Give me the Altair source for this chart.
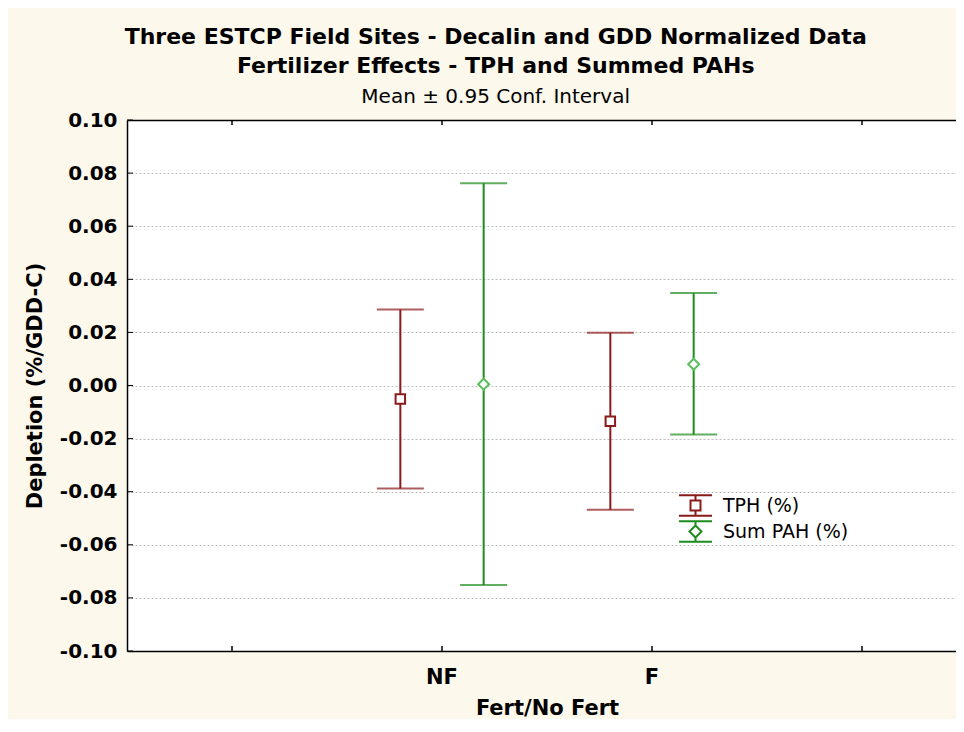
import altair as alt
import pandas as pd

# ---- data ----
categories = ["NF", "NF", "F", "F"]
series = ["TPH (%)", "Sum PAH (%)", "TPH (%)", "Sum PAH (%)"]
means = [-0.0051, 0.0005, -0.0135, 0.0080]
lows = [-0.0388, -0.0751, -0.0468, -0.0185]
highs = [0.0286, 0.0762, 0.0199, 0.0348]

series_order = ["TPH (%)", "Sum PAH (%)"]
x_slots = ["L", "NF", "F", "R"]
y_ticks = [-0.10, -0.08, -0.06, -0.04, -0.02, 0.00, 0.02, 0.04, 0.06, 0.08, 0.10]

df = pd.DataFrame({"cat": categories, "series": series, "mean": means, "lo": lows, "hi": highs})
yt_df = pd.DataFrame({"t": y_ticks})
xt_df = pd.DataFrame({"cat": x_slots})

# ---- styling ----
FONT = "DejaVu Sans"
LINE_COLORS = {"TPH (%)": "#8B1A1A", "Sum PAH (%)": "#1E8C1E"}
MARK_COLORS = {"TPH (%)": "#8B1A1A", "Sum PAH (%)": "#5CBF5C"}
MARK_SHAPES = {"TPH (%)": ("square", 90), "Sum PAH (%)": ("diamond", 120)}
W, H = 829, 531
BAND_RANGE = 840  # bands continue past the right edge, as in the reference

xscale = alt.Scale(domain=x_slots, range=[0, BAND_RANGE], paddingInner=0, paddingOuter=0)
yscale = alt.Scale(domain=[-0.1, 0.1], nice=False, zero=False)
xoff = alt.XOffset("series:N", scale=alt.Scale(domain=series_order, paddingOuter=0.26, paddingInner=0))

bottom_axis = alt.Axis(
    orient="bottom", title="Fert/No Fert", ticks=False, grid=False, labelAngle=0,
    labelExpr="datum.value == 'NF' || datum.value == 'F' ? datum.value : ''",
    labelFont=FONT, labelFontSize=21, labelFontWeight="bold", labelColor="black",
    labelPadding=15, titleFont=FONT, titleFontSize=21, titleFontWeight="bold",
    titleColor="black", titlePadding=10, domainColor="black", domainWidth=1.5,
)
top_axis = alt.Axis(orient="top", title=None, labels=False, ticks=False, grid=False,
                    domainColor="black", domainWidth=1.5)
y_axis = alt.Axis(
    orient="left", values=y_ticks, title="Depletion (%/GDD-C)", ticks=False, grid=True,
    gridColor="#BDBDBD", gridDash=[2, 2], gridWidth=1,
    labelExpr="(datum.value < -0.000001 ? '-' : '') + format(abs(datum.value), '.2f')",
    labelFont=FONT, labelFontSize=20, labelFontWeight="bold", labelColor="black",
    labelPadding=10, titleFont=FONT, titleFontSize=21, titleFontWeight="bold",
    titleColor="black", titlePadding=14, domainColor="black", domainWidth=1.5,
)

# legend glyphs: error bar with its marker (unit = symbol radius 10.5 px)
tph_path = ("M-1.57,-0.976H1.57M-1.57,0.976H1.57M0,-0.976V-0.476M0,0.476V0.976"
            "M-0.476,-0.476H0.476V0.476H-0.476Z")
pah_path = ("M-1.57,-0.976H1.57M-1.57,0.976H1.57M0,-0.976V-0.571M0,0.571V0.976"
            "M0,-0.571L0.571,0L0,0.571L-0.571,0Z")

leg = alt.Legend(
    title=None, orient="none", legendX=557, legendY=374, padding=0,
    symbolSize=441, symbolStrokeWidth=2, symbolOpacity=1, symbolFillColor="white",
    labelFont=FONT, labelFontSize=19, labelColor="black", labelOffset=16, rowPadding=-4,
)

base = alt.Chart(df)


def X():
    return alt.X("cat:N", scale=xscale, axis=None)


# invisible layer that only carries the legend (color + shape of the series)
legend_layer = base.mark_point(size=0, filled=False, fill="white").encode(
    x=X(), xOffset=xoff,
    y=alt.Y("mean:Q", scale=yscale),
    color=alt.Color("series:N", scale=alt.Scale(domain=series_order,
                                                 range=[LINE_COLORS[s] for s in series_order]),
                    legend=leg),
    shape=alt.Shape("series:N", scale=alt.Scale(domain=series_order, range=[tph_path, pah_path]),
                    legend=leg),
)

layers = [legend_layer]
for i, s in enumerate(series_order):
    sub = base.transform_filter(alt.datum.series == s)
    xenc = alt.X("cat:N", scale=xscale, axis=bottom_axis) if i == 0 else X()
    yenc = alt.Y("lo:Q", scale=yscale, axis=y_axis) if i == 0 else alt.Y("lo:Q", scale=yscale)
    layers.append(sub.mark_rule(strokeWidth=2, color=LINE_COLORS[s]).encode(
        x=xenc, xOffset=xoff, y=yenc, y2="hi:Q"))
    layers.append(sub.mark_tick(thickness=2, size=47, color=LINE_COLORS[s]).encode(
        x=X(), xOffset=xoff, y=alt.Y("lo:Q", scale=yscale)))
    layers.append(sub.mark_tick(thickness=2, size=47, color=LINE_COLORS[s]).encode(
        x=X(), xOffset=xoff, y=alt.Y("hi:Q", scale=yscale)))

layers.append(alt.Chart(yt_df).mark_rule(color="black", strokeWidth=1).encode(
    y=alt.Y("t:Q", scale=yscale), x=alt.value(0), x2=alt.value(6)))
layers.append(alt.Chart(xt_df).mark_rule(color="black", strokeWidth=1.5).encode(
    x=alt.X("cat:N", scale=xscale, axis=top_axis), y=alt.value(0), y2=alt.value(5)))
layers.append(alt.Chart(xt_df).mark_rule(color="black", strokeWidth=1.5).encode(
    x=X(), y=alt.value(H), y2=alt.value(H - 5)))

for s in series_order:
    shp, sz = MARK_SHAPES[s]
    layers.append(base.transform_filter(alt.datum.series == s).mark_point(
        shape=shp, size=sz, fill="white", fillOpacity=1, stroke=MARK_COLORS[s],
        strokeWidth=2, opacity=1
    ).encode(x=X(), xOffset=xoff, y=alt.Y("mean:Q", scale=yscale)))

chart = alt.layer(*layers).resolve_axis(x="independent").properties(
    width=W, height=H,
    autosize=alt.AutoSizeParams(type="none"),
    padding={"left": 119, "top": 112, "right": 0, "bottom": 68},
    background="#FDF8EC",
    title=alt.TitleParams(
        text=["Three ESTCP Field Sites - Decalin and GDD Normalized Data",
              "Fertilizer Effects - TPH and Summed PAHs"],
        subtitle="Mean ± 0.95 Conf. Interval",
        font=FONT, fontSize=22, fontWeight="bold", color="black", lineHeight=29,
        subtitleFont=FONT, subtitleFontSize=20, subtitleColor="black", subtitlePadding=9,
        anchor="middle", frame="bounds", offset=2,
    ),
).configure_view(stroke="transparent", fill="white")

chart.save("out.html", embed_options={"renderer": "svg", "actions": False})
